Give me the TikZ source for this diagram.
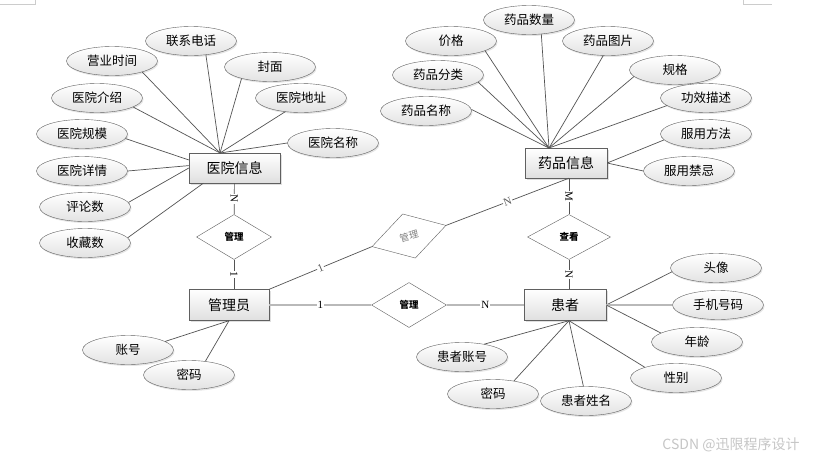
\documentclass[tikz,border=0pt]{standalone}
\usepackage{fontspec}
\setmainfont{Noto Sans CJK SC}
\newfontfamily\cardfont{Liberation Serif}
\usetikzlibrary{shapes.geometric, shadows}

\begin{document}
\begin{tikzpicture} [x=1pt, y=-1pt, inner sep=0pt,
        attr/.style={draw=gray!75!black, ellipse, minimum width=91pt, minimum height=29pt, top color=white, bottom color=gray!22, drop shadow={opacity=.2, shadow xshift=1pt, shadow yshift=-1.5pt}, font=\fontsize{12.5}{14}\selectfont},
        entity/.style={draw=gray!75!black, rectangle, minimum height=30pt, top color=white, bottom color=gray!25, drop shadow={opacity=.25, shadow xshift=1.5pt, shadow yshift=-1.5pt}, font=\fontsize{14}{16}\selectfont},
        rel/.style={draw=gray!75!black, diamond, fill=white, minimum width=75pt, minimum height=45pt, font=\bfseries\fontsize{9.5}{11}\selectfont},
        card/.style={fill=white, inner sep=.8pt, font=\cardfont\fontsize{11}{12}\selectfont},
        link/.style={draw=gray!65!black, line width=.7pt},
        thick link/.style={draw=gray!55, line width=1.6pt}]
                \path[use as bounding box, fill=white] (0,0) rectangle (817,461);
                \draw[gray!40] (0,4.5) -- (35.5,4.5) -- (35.5,0);
                \draw[gray!40] (743,0) -- (743,4.5) -- (772,4.5);

                % entities
                \node (Hospital) [entity, minimum width=91pt] at (234.5,168) {医院信息};
                \node (Drug) [entity, minimum width=82pt] at (566,163) {药品信息};
                \node (Admin) [entity, minimum width=80pt, minimum height=31pt] at (229,305) {管理员};
                \node (Patient) [entity, minimum width=82pt, minimum height=31pt] at (565,305) {患者};

                % relationships
                \node (ManageHosp) [rel] at (234,237) {管理};
                \node (Check) [rel, minimum width=83pt] at (569,237) {查看};
                \node (ManageDrug) [rel, minimum width=77pt, minimum height=46pt, rotate=16, text=gray, font=\fontsize{9.5}{11}\selectfont] at (409,236) {管理};
                \node (ManagePat) [rel] at (409,305) {管理};

                % hospital attributes
                \node (HospPhone) [attr] at (191,41) {联系电话};
                \node (HospHours) [attr] at (112,61) {营业时间};
                \node (HospCover) [attr] at (270,67) {封面};
                \node (HospIntro) [attr] at (97,98) {医院介绍};
                \node (HospAddr) [attr] at (301,98) {医院地址};
                \node (HospScale) [attr] at (82,134) {医院规模};
                \node (HospName) [attr] at (333,143) {医院名称};
                \node (HospDetail) [attr] at (82,171) {医院详情};
                \node (HospComments) [attr] at (85,207) {评论数};
                \node (HospFavs) [attr] at (85,243) {收藏数};

                % drug attributes
                \node (DrugCount) [attr] at (529,20) {药品数量};
                \node (DrugPrice) [attr] at (451,41) {价格};
                \node (DrugImage) [attr] at (608,41) {药品图片};
                \node (DrugSpec) [attr] at (675,70) {规格};
                \node (DrugType) [attr] at (438,75) {药品分类};
                \node (DrugEffect) [attr] at (706,98) {功效描述};
                \node (DrugName) [attr] at (426,111) {药品名称};
                \node (DrugUsage) [attr] at (706,134) {服用方法};
                \node (DrugTaboo) [attr] at (689,171) {服用禁忌};

                % patient attributes
                \node (PatAvatar) [attr] at (716,268) {头像};
                \node (PatPhone) [attr] at (718,305) {手机号码};
                \node (PatAge) [attr] at (697,342) {年龄};
                \node (PatSex) [attr] at (676,378) {性别};
                \node (PatAccount) [attr] at (462,357) {患者账号};
                \node (PatPassword) [attr] at (493,394) {密码};
                \node (PatName) [attr] at (586,401) {患者姓名};

                % admin attributes
                \node (AdminAccount) [attr] at (128,350) {账号};
                \node (AdminPassword) [attr] at (189,375) {密码};

                \node (Mark) [text=gray!45, font=\fontsize{14}{16}\selectfont] at (731,445) {CSDN @迅限程序设计};

                \coordinate (HospTop) at (220,153);
                \coordinate (DrugTop) at (549,148);
                \coordinate (DrugBot) at (Drug.south -| Check.north);
                \coordinate (PatTop) at (Patient.north -| Check.south);
                \coordinate (PatBot) at (Patient.south -| Check.south);

                \draw[link] (HospPhone.-43) -- (HospTop);
                \draw[link] (HospHours.-20) -- (HospTop);
                \draw[link] (HospCover.-158) -- (HospTop);
                \draw[link] (HospIntro.-14) -- (HospTop);
                \draw[link] (HospAddr.-139) -- (HospTop);
                \draw[link] (HospName.west) -- (HospTop);
                \draw[link] (HospScale.-6) -- (Hospital.170);
                \draw[link] (HospDetail.east) -- (Hospital.177);
                \draw[link] (HospComments.6) -- (Hospital.west);
                \draw[link] (HospFavs.7) -- (Hospital.-154);

                \draw[link] (DrugName.2) -- (DrugTop);
                \draw[link] (DrugType.-10) -- (DrugTop);
                \draw[link] (DrugPrice.-16) -- (DrugTop);
                \draw[link] (DrugCount.-49) -- (DrugTop);
                \draw[link] (DrugImage.-108) -- (DrugTop);
                \draw[link] (DrugSpec.-171) -- (DrugTop);
                \draw[link] (DrugEffect.-169) -- (DrugTop);
                \draw[link] (DrugUsage.-172) -- (Drug.east);
                \draw[link] (DrugTaboo.west) -- (Drug.east);

                \draw[link] (PatAvatar.-175) -- (Patient.east);
                \draw[thick link] (PatPhone.west) -- (Patient.east);
                \draw[link] (PatAge.166) -- (Patient.east);
                \draw[link] (PatSex.161) -- (PatBot);
                \draw[link] (PatAccount.30) -- (PatBot);
                \draw[link] (PatPassword.32) -- (PatBot);
                \draw[link] (PatName.100) -- (PatBot);

                \draw[link] (AdminAccount.13) -- (Admin.south);
                \draw[link] (AdminPassword.40) -- (Admin.south);

                \draw[link] (Hospital) -- (ManageHosp) node[card, midway, rotate=-90] {N};
                \draw[link] (ManageHosp.south) -- (ManageHosp.south |- Admin.north) node[card, midway, rotate=-90] {1};
                \draw[link] (Admin.north east) -- (ManageDrug.west) node[card, midway, sloped, text=gray!70!black] {1};
                \draw[link] (ManageDrug.east) -- (DrugBot) node[card, midway, sloped, text=gray!70!black] {N};
                \draw[link] (DrugBot) -- (Check.north) node[card, midway, rotate=-90] {M};
                \draw[link] (Check.south) -- (PatTop) node[card, midway, rotate=-90] {N};
                \draw[thick link] (Admin) -- (ManagePat) node[card, midway] {1};
                \draw[thick link] (ManagePat) -- (Patient) node[card, midway] {N};
            \end{tikzpicture}
\end{document}
